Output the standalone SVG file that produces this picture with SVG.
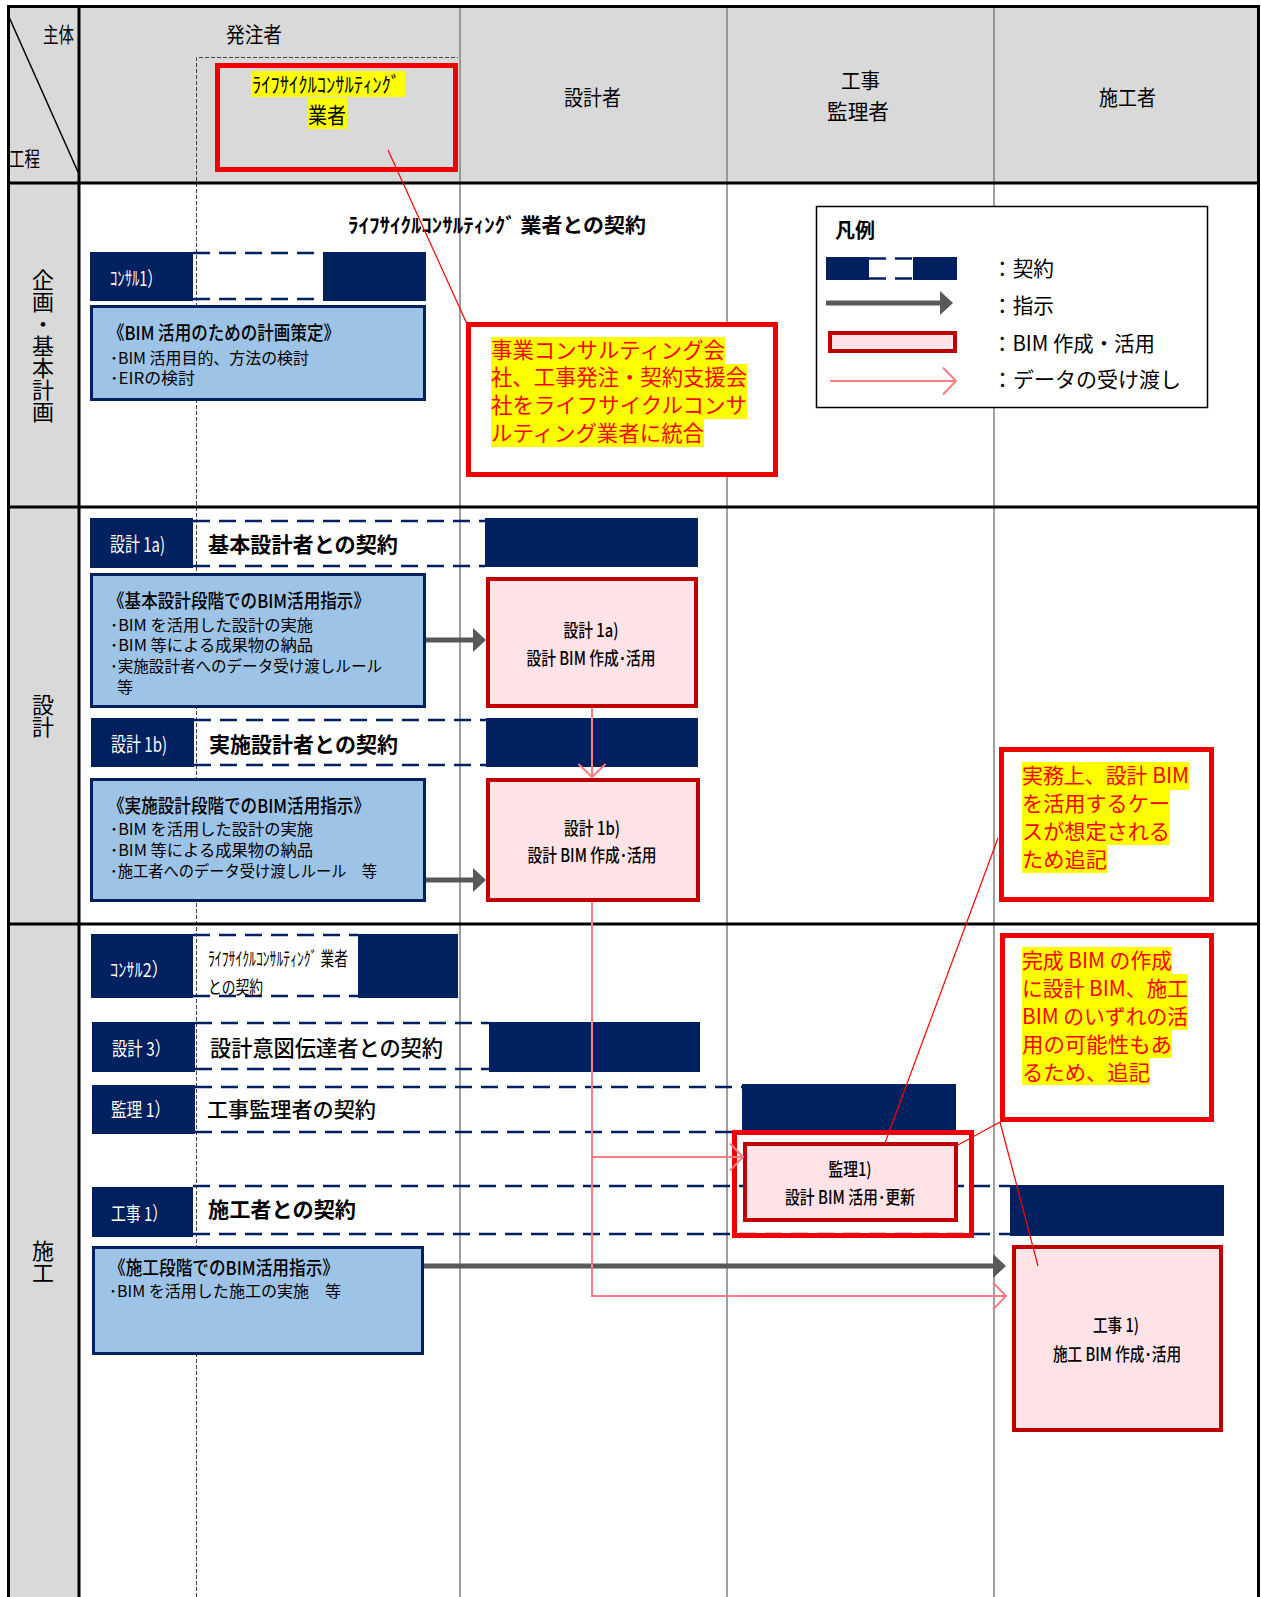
<svg xmlns="http://www.w3.org/2000/svg" width="1261" height="1597" viewBox="0 0 1261 1597">
<style>
text{font-family:"Noto Sans CJK JP","Noto Sans",sans-serif;fill:#000}
.w{fill:#fff}
.r{fill:#FF0000}
.b{font-weight:bold}
.m{font-weight:500}
.navy{fill:#002060}
.dash{stroke:#002060;stroke-width:2.5;stroke-dasharray:17 9;fill:none}
.blue{fill:#9DC3E6;stroke:#002060;stroke-width:3}
.pink{fill:#FFE3E6;stroke:#C00000;stroke-width:4}
.hl{fill:none;stroke:#F00000;stroke-width:5}
.hlw{fill:#fff;stroke:#F00000;stroke-width:5}
.yl{fill:#FFFF00}
.col{stroke:#808080;stroke-width:1.5}
.thick{stroke:#000;stroke-width:3}
.garrow{stroke:#595959;stroke-width:5;fill:none}
.data{stroke:#FF7C80;stroke-width:2;fill:none}
.leader{stroke:#FF0000;stroke-width:1.2;fill:none}
</style>
<defs>
<marker id="gh" markerUnits="userSpaceOnUse" markerWidth="14" markerHeight="24" refX="3" refY="12" orient="auto"><path d="M0,0 L13,12 L0,24 Z" fill="#595959"/></marker>
<marker id="ph" markerUnits="userSpaceOnUse" markerWidth="16" markerHeight="30" refX="14" refY="14.5" orient="auto"><path d="M1,1 L14,14.5 L1,28" fill="none" stroke="#FF7C80" stroke-width="2"/></marker>
</defs>

<g id="grid">
<rect x="0" y="0" width="1261" height="1597" fill="#fff"/>
<rect x="7" y="5" width="72" height="1592" fill="#D9D9D9"/>
<rect x="79" y="5" width="1181" height="178" fill="#D9D9D9"/>
<line class="col" x1="460" y1="5" x2="460" y2="1597"/>
<line class="col" x1="727" y1="5" x2="727" y2="1597"/>
<line class="col" x1="994" y1="5" x2="994" y2="1597"/>
<path d="M196.5,1597 V57.5 H458" fill="none" stroke="#404040" stroke-width="1" stroke-dasharray="4 2"/>
<line class="thick" x1="8.5" y1="5" x2="8.5" y2="1597"/>
<line class="thick" x1="79" y1="5" x2="79" y2="1597"/>
<line class="thick" x1="1258.5" y1="5" x2="1258.5" y2="1597"/>
<line class="thick" x1="7" y1="6.5" x2="1260" y2="6.5"/>
<line class="thick" x1="7" y1="183" x2="1260" y2="183"/>
<line class="thick" x1="7" y1="507" x2="1260" y2="507"/>
<line class="thick" x1="7" y1="924" x2="1260" y2="924"/>
<line x1="9" y1="17" x2="78" y2="172" stroke="#000" stroke-width="1.5"/>
<text x="43" y="42" font-size="21" textLength="31" lengthAdjust="spacingAndGlyphs">主体</text>
<text x="9" y="166" font-size="21" textLength="31" lengthAdjust="spacingAndGlyphs">工程</text>
<text x="226" y="42" font-size="21" textLength="56" lengthAdjust="spacingAndGlyphs">発注者</text>
<text x="564" y="105" font-size="21" textLength="57" lengthAdjust="spacingAndGlyphs">設計者</text>
<text x="841" y="88" font-size="21" textLength="39" lengthAdjust="spacingAndGlyphs">工事</text>
<text x="827" y="119" font-size="21" textLength="62" lengthAdjust="spacingAndGlyphs">監理者</text>
<text x="1099" y="105" font-size="21" textLength="57" lengthAdjust="spacingAndGlyphs">施工者</text>
<text x="43" y="346" font-size="22" text-anchor="middle" style="writing-mode:vertical-rl">企画・基本計画</text>
<text x="43" y="716" font-size="22" text-anchor="middle" style="writing-mode:vertical-rl">設計</text>
<text x="43" y="1262" font-size="22" text-anchor="middle" style="writing-mode:vertical-rl">施工</text>
</g>

<g id="lcc-header">
<rect x="251" y="71" width="154" height="26" class="yl"/>
<rect x="308" y="98" width="39" height="31" class="yl"/>
<text x="252" y="92" font-size="21" textLength="148" lengthAdjust="spacingAndGlyphs">ﾗｲﾌｻｲｸﾙｺﾝｻﾙﾃｨﾝｸﾞ</text>
<text x="308" y="123" font-size="22" textLength="38" lengthAdjust="spacingAndGlyphs">業者</text>
<rect x="217.5" y="65.5" width="238" height="104" class="hl"/>
</g>

<g id="lcc-contract-title">
<text x="348" y="233" font-size="20" class="b" textLength="298" lengthAdjust="spacingAndGlyphs">ﾗｲﾌｻｲｸﾙｺﾝｻﾙﾃｨﾝｸﾞ 業者との契約</text>
</g>

<g id="legend">
<rect x="816.5" y="206.5" width="391" height="201" fill="#fff" stroke="#000" stroke-width="1.5"/>
<text x="835" y="238" font-size="20" class="b">凡例</text>
<rect x="826" y="257" width="43" height="23" class="navy"/>
<rect x="913" y="257" width="44" height="23" class="navy"/>
<line x1="869" y1="258.5" x2="913" y2="258.5" class="dash" stroke-width="3"/>
<line x1="869" y1="278.5" x2="913" y2="278.5" class="dash" stroke-width="3"/>
<line x1="826" y1="303" x2="943" y2="303" class="garrow" stroke-width="4" marker-end="url(#gh)"/>
<rect x="830" y="333" width="125" height="18" class="pink"/>
<line x1="830" y1="381" x2="956" y2="381" class="data" marker-end="url(#ph)"/>
<text x="992" y="276" font-size="21" textLength="62" lengthAdjust="spacingAndGlyphs">：契約</text>
<text x="992" y="313" font-size="21" textLength="62" lengthAdjust="spacingAndGlyphs">：指示</text>
<text x="992" y="351" font-size="21" textLength="163" lengthAdjust="spacingAndGlyphs">：BIM 作成・活用</text>
<text x="992" y="387" font-size="21" textLength="189" lengthAdjust="spacingAndGlyphs">：データの受け渡し</text>
</g>

<g id="consul1">
<line x1="193" y1="253" x2="323" y2="253" class="dash"/>
<line x1="193" y1="299" x2="323" y2="299" class="dash"/>
<rect x="90" y="252" width="103" height="49" class="navy"/>
<rect x="323" y="252" width="103" height="49" class="navy"/>
<text x="110" y="286" font-size="20" class="w" textLength="52" lengthAdjust="spacingAndGlyphs">ｺﾝｻﾙ1）</text>
</g>

<g id="plan-box">
<rect x="91.5" y="306.5" width="333" height="93" class="blue"/>
<text x="108" y="340" font-size="19" class="m" textLength="232" lengthAdjust="spacingAndGlyphs">《BIM 活用のための計画策定》</text>
<text x="110" y="364" font-size="16" textLength="199" lengthAdjust="spacingAndGlyphs">･BIM 活用目的、方法の検討</text>
<text x="110" y="384" font-size="16" textLength="85" lengthAdjust="spacingAndGlyphs">･EIRの検討</text>
</g>

<g id="callout1">
<rect x="468.5" y="324.5" width="307" height="150" class="hlw"/>
<rect x="491" y="337" width="234" height="27" class="yl"/>
<rect x="491" y="364" width="256" height="27" class="yl"/>
<rect x="491" y="391" width="256" height="28" class="yl"/>
<rect x="491" y="419" width="213" height="28" class="yl"/>
<text x="491" y="358" font-size="21.3" class="r" textLength="234" lengthAdjust="spacingAndGlyphs">事業コンサルティング会</text>
<text x="491" y="385" font-size="21.3" class="r" textLength="256" lengthAdjust="spacingAndGlyphs">社、工事発注・契約支援会</text>
<text x="491" y="413" font-size="21.3" class="r" textLength="256" lengthAdjust="spacingAndGlyphs">社をライフサイクルコンサ</text>
<text x="491" y="441" font-size="21.3" class="r" textLength="213" lengthAdjust="spacingAndGlyphs">ルティング業者に統合</text>
</g>

<g id="design1a-contract">
<line x1="193" y1="521" x2="485" y2="521" class="dash"/>
<line x1="193" y1="566" x2="485" y2="566" class="dash"/>
<rect x="90" y="518" width="103" height="50" class="navy"/>
<rect x="485" y="518" width="213" height="49" class="navy"/>
<text x="110" y="552" font-size="20" class="w" textLength="55" lengthAdjust="spacingAndGlyphs">設計 1a)</text>
<text x="208" y="552" font-size="21" class="b" textLength="190" lengthAdjust="spacingAndGlyphs">基本設計者との契約</text>
</g>

<g id="design1a-instr">
<rect x="91.5" y="574.5" width="333" height="132" class="blue"/>
<text x="108" y="608" font-size="19" class="m" textLength="262" lengthAdjust="spacingAndGlyphs">《基本設計段階でのBIM活用指示》</text>
<text x="110" y="631" font-size="16" textLength="203" lengthAdjust="spacingAndGlyphs">･BIM を活用した設計の実施</text>
<text x="110" y="651" font-size="16" textLength="203" lengthAdjust="spacingAndGlyphs">･BIM 等による成果物の納品</text>
<text x="110" y="672" font-size="16" textLength="272" lengthAdjust="spacingAndGlyphs">･実施設計者へのデータ受け渡しルール</text>
<text x="117" y="693" font-size="16">等</text>
</g>

<g id="design1a-bim">
<rect x="488" y="579" width="208" height="127" class="pink"/>
<text x="591" y="637" font-size="18" text-anchor="middle" class="m" textLength="55" lengthAdjust="spacingAndGlyphs">設計 1a)</text>
<text x="591" y="665" font-size="18" text-anchor="middle" class="m" textLength="129" lengthAdjust="spacingAndGlyphs">設計 BIM 作成･活用</text>
</g>

<g id="design1b-contract">
<line x1="194" y1="720" x2="486" y2="720" class="dash"/>
<line x1="194" y1="765" x2="486" y2="765" class="dash"/>
<rect x="91" y="718" width="103" height="49" class="navy"/>
<rect x="486" y="718" width="212" height="49" class="navy"/>
<text x="111" y="752" font-size="20" class="w" textLength="56" lengthAdjust="spacingAndGlyphs">設計 1b)</text>
<text x="209" y="752" font-size="21" class="b" textLength="189" lengthAdjust="spacingAndGlyphs">実施設計者との契約</text>
</g>

<g id="design1b-instr">
<rect x="91.5" y="779.5" width="333" height="121" class="blue"/>
<text x="108" y="813" font-size="19" class="m" textLength="262" lengthAdjust="spacingAndGlyphs">《実施設計段階でのBIM活用指示》</text>
<text x="110" y="835" font-size="16" textLength="203" lengthAdjust="spacingAndGlyphs">･BIM を活用した設計の実施</text>
<text x="110" y="856" font-size="16" textLength="203" lengthAdjust="spacingAndGlyphs">･BIM 等による成果物の納品</text>
<text x="110" y="877" font-size="16" textLength="267" lengthAdjust="spacingAndGlyphs">･施工者へのデータ受け渡しルール　等</text>
</g>

<g id="design1b-bim">
<rect x="488" y="780" width="210" height="120" class="pink"/>
<text x="592" y="835" font-size="18" text-anchor="middle" class="m" textLength="56" lengthAdjust="spacingAndGlyphs">設計 1b)</text>
<text x="592" y="862" font-size="18" text-anchor="middle" class="m" textLength="129" lengthAdjust="spacingAndGlyphs">設計 BIM 作成･活用</text>
</g>

<g id="callout2">
<rect x="1001.5" y="749.5" width="210" height="150" class="hlw"/>
<rect x="1022" y="762" width="167" height="28" class="yl"/>
<rect x="1022" y="790" width="148" height="28" class="yl"/>
<rect x="1022" y="818" width="148" height="27" class="yl"/>
<rect x="1022" y="845" width="85" height="28" class="yl"/>
<text x="1022" y="783" font-size="21" class="r" textLength="167" lengthAdjust="spacingAndGlyphs">実務上、設計 BIM</text>
<text x="1022" y="811" font-size="21" class="r" textLength="148" lengthAdjust="spacingAndGlyphs">を活用するケー</text>
<text x="1022" y="839" font-size="21" class="r" textLength="148" lengthAdjust="spacingAndGlyphs">スが想定される</text>
<text x="1022" y="867" font-size="21" class="r" textLength="85" lengthAdjust="spacingAndGlyphs">ため追記</text>
</g>

<g id="consul2">
<line x1="193" y1="935" x2="358" y2="935" class="dash"/>
<line x1="193" y1="996" x2="358" y2="996" class="dash"/>
<rect x="91" y="934" width="102" height="64" class="navy"/>
<rect x="358" y="934" width="100" height="64" class="navy"/>
<text x="110" y="977" font-size="19" class="w" textLength="58" lengthAdjust="spacingAndGlyphs">ｺﾝｻﾙ2）</text>
<text x="208" y="966" font-size="19" textLength="140" lengthAdjust="spacingAndGlyphs">ﾗｲﾌｻｲｸﾙｺﾝｻﾙﾃｨﾝｸﾞ 業者</text>
<text x="208" y="994" font-size="18" textLength="55" lengthAdjust="spacingAndGlyphs">との契約</text>
</g>

<g id="callout3">
<rect x="1002.5" y="935.5" width="209" height="184" class="hlw"/>
<rect x="1022" y="947" width="150" height="27" class="yl"/>
<rect x="1022" y="974" width="166" height="28" class="yl"/>
<rect x="1022" y="1002" width="166" height="28" class="yl"/>
<rect x="1022" y="1030" width="150" height="28" class="yl"/>
<rect x="1022" y="1058" width="128" height="27" class="yl"/>
<text x="1022" y="968" font-size="21" class="r" textLength="150" lengthAdjust="spacingAndGlyphs">完成 BIM の作成</text>
<text x="1022" y="996" font-size="21" class="r" textLength="166" lengthAdjust="spacingAndGlyphs">に設計 BIM、施工</text>
<text x="1022" y="1024" font-size="21" class="r" textLength="166" lengthAdjust="spacingAndGlyphs">BIM のいずれの活</text>
<text x="1022" y="1052" font-size="21" class="r" textLength="150" lengthAdjust="spacingAndGlyphs">用の可能性もあ</text>
<text x="1022" y="1080" font-size="21" class="r" textLength="128" lengthAdjust="spacingAndGlyphs">るため、追記</text>
</g>

<g id="design3-contract">
<line x1="195" y1="1023" x2="489" y2="1023" class="dash"/>
<line x1="195" y1="1069" x2="489" y2="1069" class="dash"/>
<rect x="92" y="1022" width="103" height="50" class="navy"/>
<rect x="489" y="1022" width="211" height="50" class="navy"/>
<text x="112" y="1056" font-size="19" class="w" textLength="58" lengthAdjust="spacingAndGlyphs">設計 3）</text>
<text x="210" y="1056" font-size="21.2" class="m" textLength="233" lengthAdjust="spacingAndGlyphs">設計意図伝達者との契約</text>
</g>

<g id="kanri1-contract">
<line x1="195" y1="1087" x2="742" y2="1087" class="dash"/>
<line x1="195" y1="1132" x2="742" y2="1132" class="dash"/>
<rect x="92" y="1085" width="103" height="49" class="navy"/>
<rect x="742" y="1084" width="214" height="47" class="navy"/>
<text x="111" y="1117" font-size="19" class="w" textLength="59" lengthAdjust="spacingAndGlyphs">監理 1）</text>
<text x="207" y="1117" font-size="21" class="m" textLength="169" lengthAdjust="spacingAndGlyphs">工事監理者の契約</text>
</g>

<g id="koji1-contract">
<line x1="193" y1="1186" x2="1010" y2="1186" class="dash"/>
<line x1="193" y1="1234" x2="1010" y2="1234" class="dash"/>
<rect x="92" y="1187" width="101" height="50" class="navy"/>
<rect x="1010" y="1185" width="214" height="51" class="navy"/>
<text x="111" y="1221" font-size="19" class="w" textLength="56" lengthAdjust="spacingAndGlyphs">工事 1）</text>
<text x="208" y="1217" font-size="21" class="b" textLength="148" lengthAdjust="spacingAndGlyphs">施工者との契約</text>
</g>

<g id="kanri1-bim">
<rect x="734.5" y="1132.5" width="237" height="103" class="hl"/>
<rect x="745" y="1144" width="211" height="76" class="pink"/>
<text x="850" y="1176" font-size="18" text-anchor="middle" class="m" textLength="43" lengthAdjust="spacingAndGlyphs">監理1)</text>
<text x="850" y="1204" font-size="18" text-anchor="middle" class="m" textLength="130" lengthAdjust="spacingAndGlyphs">設計 BIM 活用･更新</text>
</g>

<g id="koji1-instr">
<rect x="93.5" y="1247.5" width="329" height="106" class="blue"/>
<text x="109" y="1275" font-size="19" class="m" textLength="230" lengthAdjust="spacingAndGlyphs">《施工段階でのBIM活用指示》</text>
<text x="109" y="1297" font-size="16" textLength="232" lengthAdjust="spacingAndGlyphs">･BIM を活用した施工の実施　等</text>
</g>

<g id="koji1-bim">
<rect x="1014" y="1247" width="207" height="183" class="pink"/>
<text x="1116" y="1332" font-size="18" text-anchor="middle" class="m" textLength="46" lengthAdjust="spacingAndGlyphs">工事 1)</text>
<text x="1117" y="1361" font-size="18" text-anchor="middle" class="m" textLength="128" lengthAdjust="spacingAndGlyphs">施工 BIM 作成･活用</text>
</g>

<g id="connectors">
<line x1="426" y1="640" x2="476" y2="640" class="garrow" marker-end="url(#gh)"/>
<line x1="426" y1="880" x2="476" y2="880" class="garrow" marker-end="url(#gh)"/>
<line x1="424" y1="1266" x2="996" y2="1266" class="garrow" marker-end="url(#gh)"/>
<path d="M592,708 V777" class="data" marker-end="url(#ph)"/>
<path d="M592,902 V1296 H1006" class="data" marker-end="url(#ph)"/>
<path d="M592,1157 H743" class="data" marker-end="url(#ph)"/>
<line x1="388" y1="150" x2="467" y2="324" class="leader"/>
<line x1="998" y1="838" x2="885" y2="1143" class="leader"/>
<line x1="1000" y1="1122" x2="958" y2="1145" class="leader"/>
<line x1="1000" y1="1122" x2="1038" y2="1266" class="leader"/>
</g>
</svg>
